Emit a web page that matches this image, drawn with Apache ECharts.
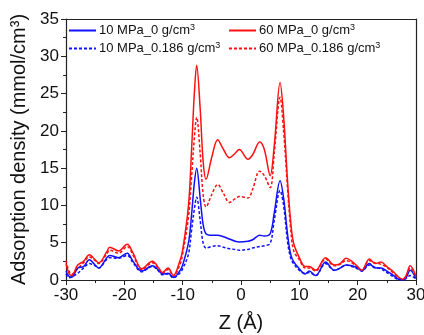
<!DOCTYPE html>
<html><head><meta charset="utf-8">
<script src="https://cdn.jsdelivr.net/npm/echarts@6/dist/echarts.min.js"></script>
<style>html,body{margin:0;padding:0;background:#fff}#c{width:424px;height:335px}</style>
</head><body><div id="c"></div>
<script>
const zValues = [-30,-29.5,-29,-28,-27,-26,-25,-24.4,-23,-22.5,-21,-19.5,-18.5,-17,-15.2,-14,-13.5,-12.5,-11.6,-10.5,-10,-9,-8.5,-8,-7.6,-7,-6.5,-6,-5,-4,-3,-2,-1,-0.3,1.2,2,3.2,4,5,5.7,6.7,7.3,8,8.5,9,10,11,11.7,12.8,14.5,16,17,18,19,20,20.7,22,23,24,25,26,27,27.7,28.3,29,30];
const red0 = [2.2,0.9,0.6,2.0,2.5,3.4,2.7,2.3,3.8,4.4,3.9,4.8,3.6,1.5,2.5,1.5,1.0,1.6,0.6,2.5,4.0,10,17,25,28.8,23,16,13.5,16.5,18.8,17.5,16.4,17.0,17.5,16.2,16.8,18.5,17.5,14.0,18,26.5,22,13,8,5,3.0,1.8,1.8,1.3,3.0,2.0,2.2,2.9,2.5,1.8,1.3,2.8,2.2,2.4,1.8,1.2,0.4,0.1,0.6,1.9,0.5];
const red186 = [2.6,1.2,0.8,1.5,2.3,3.1,2.6,2.2,3.5,4.0,3.6,4.5,3.3,1.4,2.3,1.4,0.9,1.4,0.5,2.0,3.5,8.5,13.5,19,21.8,17,11.5,9.8,11.5,12.8,11.6,10.4,10.9,11.2,11.0,12.2,14.6,14.0,12.4,17,24.5,20,12,7,4,2.7,1.6,1.6,1.2,2.8,1.9,2.1,2.6,2.3,1.7,1.3,2.6,2.3,2.1,1.7,1.0,0.3,0.1,0.5,1.6,0.4];
const blue0 = [1.2,0.5,0.4,1.6,1.8,2.7,2.0,1.6,3.0,3.3,3.0,3.6,2.5,1.2,1.9,1.2,0.8,0.9,0.35,1.2,2.0,5.0,8.5,13,15.0,11,7.5,6.2,6.0,6.0,5.8,5.5,5.2,5.1,5.2,5.4,6.0,5.9,6.2,9.0,13.3,11,6.0,3.5,2.5,1.5,0.8,1.2,0.6,2.4,1.3,1.6,2.0,1.9,1.6,1.2,2.2,1.6,1.6,1.2,0.7,0.1,0.0,0.3,1.3,0.2];
const blue186 = [0.8,0.3,0.4,0.9,1.6,2.2,1.9,1.6,2.8,3.0,2.9,3.3,2.3,1.1,1.8,1.1,0.7,0.8,0.3,0.9,1.5,3.5,6.5,9.5,11.1,8,5.0,4.3,4.5,4.6,4.4,4.2,4.1,4.0,4.1,4.3,4.5,4.6,4.9,8.0,12.0,10,5.0,3.0,2.2,1.3,0.9,1.0,0.6,2.2,1.3,1.6,2.0,1.8,1.5,1.2,2.0,1.7,1.5,1.0,0.5,0.1,0.1,0.2,0.6,0.1];
const seriesNames = ['10 MPa_0 g/cm³','10 MPa_0.186 g/cm³','60 MPa_0 g/cm³','60 MPa_0.186 g/cm³'];
const xTicks = [-30,-20,-10,0,10,20,30];
const yTicks = [0,5,10,15,20,25,30,35];

const pair = arr => zValues.map((z,i)=>[z,arr[i]]);
const F = 'Liberation Sans, Arial, sans-serif';
const chart = echarts.init(document.getElementById('c'), null, {renderer:'canvas'});
function mk(name, arr, color, dashed){
  return {name, type:'line', data:pair(arr), smooth:0.35, symbol:'none', showSymbol:false,
    lineStyle:{color, width:1.5, type: dashed?[3,2]:'solid'}, itemStyle:{color}, z: dashed?2:3, animation:false};
}
const supRich = {s:{fontFamily:F, fontSize:9, color:'#111', verticalAlign:'top', padding:[0,0,6,0]}};
const legendCommon = {orient:'vertical', itemWidth:27, itemHeight:10, itemGap:4, itemStyle:{opacity:0},
  formatter: n => n.replace('³','{s|3}'),
  textStyle:{fontFamily:F, fontSize:13, color:'#111', padding:[0,0,0,-2], rich:supRich}, padding:0};
chart.setOption({
  animation:false,
  grid:{left:66, right:8, top:19, bottom:55, outerBoundsMode:'none', containLabel:false},
  legend:[
    Object.assign({left:68, top:23, data:[seriesNames[0], seriesNames[1]]}, legendCommon),
    Object.assign({left:228, top:23, data:[seriesNames[2], seriesNames[3]]}, legendCommon)
  ],
  xAxis:[{type:'value', min:-30, max:30, interval:10, name:'Z (Å)', nameLocation:'middle', nameGap:33,
    nameTextStyle:{fontFamily:F, fontSize:20, color:'#111'},
    axisLine:{onZero:false, lineStyle:{color:'#222', width:1.2}},
    axisTick:{show:true, inside:false, length:5, lineStyle:{color:'#222'}},
    minorTick:{show:true, splitNumber:2, length:3, lineStyle:{color:'#222'}},
    axisLabel:{fontFamily:F, fontSize:17, color:'#111', margin:7, formatter:v=>xTicks.includes(v)?String(v):''},
    splitLine:{show:false}},
   {type:'value', position:'top', min:-30, max:30, interval:10, axisLine:{show:true, onZero:false, lineStyle:{color:'#222', width:1.2}}, axisTick:{show:false}, axisLabel:{show:false}, splitLine:{show:false}}],
  yAxis:[{type:'value', min:0, max:35, interval:5, name:'Adsorption density (mmol/cm³)', nameLocation:'middle', nameGap:37,
    nameTextStyle:{fontFamily:F, fontSize:20, color:'#111'},
    axisLine:{show:true, onZero:false, lineStyle:{color:'#222', width:1.2}},
    axisTick:{show:true, length:5, lineStyle:{color:'#222'}},
    minorTick:{show:true, splitNumber:2, length:3, lineStyle:{color:'#222'}},
    axisLabel:{fontFamily:F, fontSize:17, color:'#111', margin:7, formatter:v=>yTicks.includes(v)?String(v):''},
    splitLine:{show:false}},
   {type:'value', position:'right', min:0, max:35, interval:5, axisLine:{show:true, onZero:false, lineStyle:{color:'#222', width:1.2}}, axisTick:{show:false}, axisLabel:{show:false}, splitLine:{show:false}}],
  series:[
    mk(seriesNames[0], blue0, '#1010ff', false),
    mk(seriesNames[1], blue186, '#1010ff', true),
    mk(seriesNames[2], red0, '#ff1010', false),
    mk(seriesNames[3], red186, '#ff1010', true)
  ]
});
</script></body></html>
